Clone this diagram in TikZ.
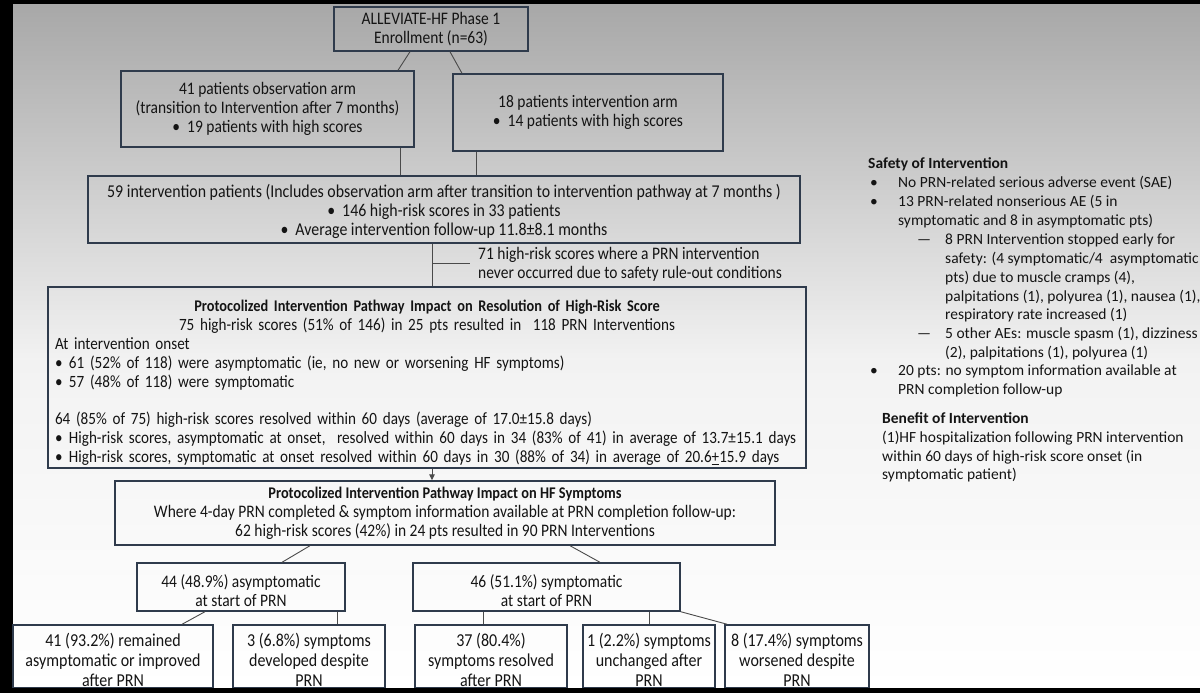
\documentclass[tikz,border=0pt]{standalone}
\usepackage{fontspec}
\setmainfont{Carlito}
\newfontfamily\cfam{Carlito}[FakeStretch=0.88]
\usetikzlibrary{arrows.meta}
\definecolor{boxc}{HTML}{2F3B4C}
\definecolor{linec}{HTML}{4A4A4A}
\definecolor{txt}{HTML}{141414}
\definecolor{bgtop}{HTML}{A8A8A8}
\definecolor{bgmid}{HTML}{F2F2F2}
\definecolor{bgbot}{HTML}{FFFFFF}
\newcommand\lfnt{\cfam\fontsize{17.6}{19}\selectfont}
\newcommand\pfnt{\cfam\fontsize{17.2}{18.9}\selectfont}
\newcommand\wfnt{\cfam\fontsize{18.05}{19}\selectfont}
\newcommand\bfnt{\cfam\fontsize{18.2}{20}\selectfont}
\newcommand\rfnt{\fontsize{15.5}{18.8}\selectfont}
\newcommand\tfnt{\cfam\fontsize{16.3}{18.9}\selectfont\bfseries}
\begin{document}
\begin{tikzpicture}[x=1pt,y=-1pt,
  box/.style={draw=boxc,line width=1.4pt,inner sep=0pt,align=center,font=\lfnt,text=txt},
  bbox/.style={box,font=\bfnt},
  conn/.style={draw=linec,line width=0.9pt},
  rt/.style={anchor=base west,inner sep=0pt,font=\rfnt,text=txt},
  lt/.style={inner sep=0pt,font=\lfnt,text=txt,align=left},
]
\useasboundingbox (0,0) rectangle (1200,693);
\fill[black] (0,0) rectangle (1200,693);
\shade[top color=bgtop,bottom color=bgmid] (13,5) rectangle (1200,360);
\shade[top color=bgmid,bottom color=bgbot] (13,360) rectangle (1200,688);

% top rows
\node[box,minimum width=194pt,minimum height=44pt] (enr) at (431,29)
  {\rule{0pt}{13pt}ALLEVIATE-HF Phase 1\\Enrollment (n=63)};
\node[box,minimum width=293pt,minimum height=76pt] (obs) at (267.5,109)
  {41 patients observation arm\\(transition to Intervention after 7 months)\\\textbullet\hspace{7pt}19 patients with high scores};
\node[box,minimum width=270pt,minimum height=77pt] (int) at (588,112.5)
  {18 patients intervention arm\\\textbullet\hspace{7pt}14 patients with high scores};
\node[box,font=\wfnt,minimum width=712pt,minimum height=67pt] (ffn) at (444,209.5)
  {\rule{0pt}{17pt}59 intervention patients (Includes observation arm after transition to intervention pathway at 7 months )\\
   \textbullet\hspace{7pt}146 high-risk scores in 33 patients\\
   \textbullet\hspace{7pt}Average intervention follow-up 11.8±8.1 months};

\draw[conn] ([xshift=-21pt]enr.south) -- ([xshift=130.5pt]obs.north);
\draw[conn] ([xshift=19pt]enr.south) -- ([xshift=-126pt]int.north);
\coordinate (c1) at ([xshift=132.5pt]obs.south);
\coordinate (c2) at ([xshift=-112pt]int.south);
\draw[conn] (c1) -- (c1 |- ffn.north);
\draw[conn] (c2) -- (c2 |- ffn.north);

% first protocol box
\node[box,font=\pfnt,minimum width=758pt,minimum height=181pt,text width=744pt,align=left] (p1) at (427,377.5)
  {\makebox[744pt]{\rule{0pt}{22pt}\tfnt Protocolized Intervention Pathway Impact on Resolution of High-Risk Score}\\
   \makebox[744pt]{75 high-risk scores (51\% of 146) in 25 pts resulted in\ \ 118 PRN Interventions}\\
   At intervention onset\\
   \mbox{\makebox[14pt][l]{\textbullet}61 (52\% of 118) were asymptomatic (ie, no new or worsening HF symptoms)}\\
   \mbox{\makebox[14pt][l]{\textbullet}57 (48\% of 118) were symptomatic}\\[18.9pt]
   \mbox{64 (85\% of 75) high-risk scores resolved within 60 days (average of 17.0±15.8 days)}\\
   \mbox{\makebox[14pt][l]{\textbullet}High-risk scores, asymptomatic at onset,\ \ resolved within 60 days in 34 (83\% of 41) in average of 13.7±15.1 days}\\
   \mbox{\makebox[14pt][l]{\textbullet}High-risk scores, symptomatic at onset resolved within 60 days in 30 (88\% of 34) in average of 20.6\underline{+}15.9 days}};

\coordinate (v1) at ([xshift=-12pt]ffn.south);
\coordinate (sy) at (0,263);
\draw[conn] (v1) -- (v1 |- p1.north);
\draw[conn] (v1 |- sy) -- ++(38,0) coordinate (stubend);
\node[lt,anchor=west] (excl) at ([xshift=8pt,yshift=-1pt]stubend)
  {71 high-risk scores where a PRN intervention\\never occurred due to safety rule-out conditions};

% second protocol box
\node[box,minimum width=660pt,minimum height=64pt] (p2) at (445,513)
  {{\tfnt Protocolized Intervention Pathway Impact on HF Symptoms}\\
   Where 4-day PRN completed \& symptom information available at PRN completion follow-up:\\
   62 high-risk scores (42\%) in 24 pts resulted in 90 PRN Interventions};
\draw[conn,-{Triangle[length=6pt,width=5.5pt]}] (v1 |- p1.south) -- (v1 |- p2.north);

% middle row
\node[box,minimum width=208pt,minimum height=48pt] (asym) at (241,587)
  {\rule{0pt}{20pt}44 (48.9\%) asymptomatic\\at start of PRN};
\node[box,minimum width=267pt,minimum height=48pt] (sym) at (546.5,587)
  {\rule{0pt}{20pt}46 (51.1\%) symptomatic\\at start of PRN};
\draw[conn] ([xshift=-135pt]p2.south) -- ([xshift=41pt]asym.north);
\draw[conn] ([xshift=125pt]p2.south) -- ([xshift=53.5pt]sym.north);

% bottom row
\node[bbox,minimum width=200pt,minimum height=63pt] (b1) at (113,656.5)
  {\rule{0pt}{20pt}41 (93.2\%) remained\\asymptomatic or improved\\after PRN};
\node[bbox,minimum width=152pt,minimum height=63pt] (b2) at (309,656.5)
  {\rule{0pt}{20pt}3 (6.8\%) symptoms\\developed despite\\PRN};
\node[bbox,minimum width=152pt,minimum height=63pt] (b3) at (491,656.5)
  {\rule{0pt}{20pt}37 (80.4\%)\\symptoms resolved\\after PRN};
\node[bbox,minimum width=132pt,minimum height=63pt] (b4) at (649,656.5)
  {\rule{0pt}{20pt}1 (2.2\%) symptoms\\unchanged after\\PRN};
\node[bbox,minimum width=144pt,minimum height=63pt] (b5) at (797,656.5)
  {\rule{0pt}{20pt}8 (17.4\%) symptoms\\worsened despite\\PRN};

\draw[conn] ([xshift=-36pt]asym.south) -- ([xshift=69pt]b1.north);
\coordinate (c3) at ([xshift=96pt]asym.south);
\draw[conn] (c3) -- (c3 |- b2.north);
\coordinate (c4) at ([xshift=-63pt]sym.south);
\draw[conn] (c4) -- (c4 |- b3.north);
\coordinate (c5) at ([xshift=103pt]sym.south);
\draw[conn] (c5) -- (c5 |- b4.north);
\draw[conn] (sym.south east) -- ([xshift=3pt]b5.north west);

% right-hand text
\node[rt] (r1) at (868,168) {\textbf{Safety of Intervention}};
\node[rt] (r2b) at (870,187) {\textbullet};
\node[rt] (r2) at (898,187) {No PRN-related serious adverse event (SAE)};
\node[rt] (r3b) at (870,206) {\textbullet};
\node[rt] (r3) at (898,206) {13 PRN-related nonserious AE (5 in};
\node[rt] (r4) at (898,225) {symptomatic and 8 in asymptomatic pts)};
\node[rt] (r5d) at (917,244) {—};
\node[rt] (r5) at (945,244) {8 PRN Intervention stopped early for};
\node[rt] (r6) at (945,263) {safety: (4 symptomatic/4\ \ asymptomatic};
\node[rt] (r7) at (945,282) {pts) due to muscle cramps (4),};
\node[rt] (r8) at (945,301) {palpitations (1), polyurea (1), nausea (1),};
\node[rt] (r9) at (945,319) {respiratory rate increased (1)};
\node[rt] (r10d) at (917,338) {—};
\node[rt] (r10) at (945,338) {5 other AEs: muscle spasm (1), dizziness};
\node[rt] (r11) at (945,357) {(2), palpitations (1), polyurea (1)};
\node[rt] (r12b) at (870,375) {\textbullet};
\node[rt] (r12) at (898,375) {20 pts: no symptom information available at};
\node[rt] (r13) at (898,394) {PRN completion follow-up};
\node[rt] (r14) at (882,423) {\textbf{Benefit of Intervention}};
\node[rt] (r15) at (882,442) {(1)HF hospitalization following PRN intervention};
\node[rt] (r16) at (882,461) {within 60 days of high-risk score onset (in};
\node[rt] (r17) at (882,479) {symptomatic patient)};

% black frame over edges
\fill[black] (0,688) rectangle (1200,693);
\end{tikzpicture}
\end{document}
